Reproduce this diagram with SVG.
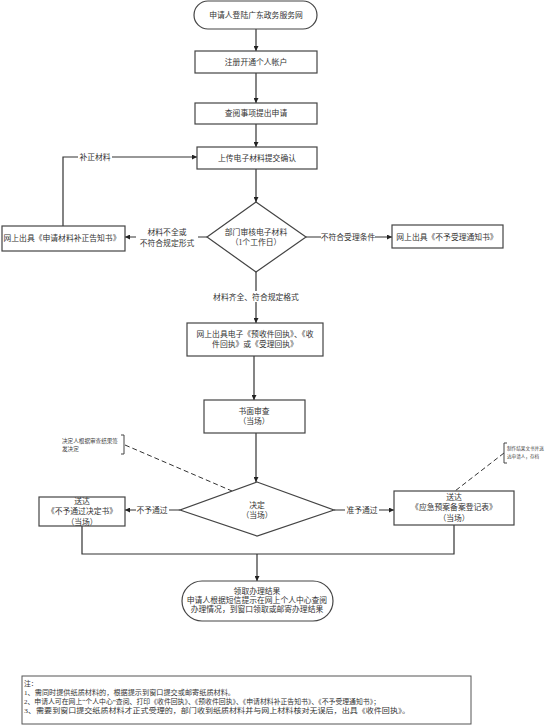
<svg xmlns="http://www.w3.org/2000/svg" width="554" height="726" viewBox="0 0 554 726">
<defs>
<marker id="arr" viewBox="0 0 10 10" refX="10" refY="5" markerWidth="5" markerHeight="5" orient="auto" markerUnits="userSpaceOnUse">
<path d="M0,0 L10,5 L0,10 z" fill="#222"/>
</marker>
<style>
.n{fill:#fff;stroke:#444;stroke-width:1.2}
.t{font-family:"Liberation Serif","Noto Sans CJK SC",serif;font-size:7.8px;fill:#333;text-anchor:middle}
.s{font-family:"Liberation Serif","Noto Sans CJK SC",serif;font-size:5.6px;fill:#444}
.c{fill:none;stroke:#333;stroke-width:1.2}
.a{marker-end:url(#arr)}
.d{fill:none;stroke:#333;stroke-width:1;stroke-dasharray:5,3}
.bg{fill:#fff}
.nt{font-family:"Liberation Serif","Noto Sans CJK SC",serif;font-size:6.8px;fill:#333}
</style>
</defs>
<rect width="554" height="726" fill="#fff"/>
<g id="connectors">
<line class="c a" x1="256" y1="29" x2="256" y2="51"/>
<line class="c a" x1="256" y1="73" x2="256" y2="103"/>
<line class="c a" x1="256" y1="124" x2="256" y2="147"/>
<line class="c a" x1="256" y1="169" x2="256" y2="202"/>
<line class="c a" x1="306" y1="237" x2="392" y2="237"/>
<rect class="bg" x="321" y="231" width="54" height="11"/>
<text class="t" x="348" y="240">不符合受理条件</text>
<line class="c a" x1="207" y1="237" x2="125" y2="237"/>
<rect class="bg" x="136" y="226" width="62" height="22"/>
<text class="t" x="167" y="235">材料不全或</text>
<text class="t" x="167" y="246">不符合规定形式</text>
<polyline class="c a" points="63,226 63,157 197,157"/>
<rect class="bg" x="78" y="152" width="34" height="10"/>
<text class="t" x="95" y="160">补正材料</text>
<line class="c a" x1="256" y1="272" x2="256" y2="323"/>
<rect class="bg" x="210" y="291" width="92" height="11"/>
<text class="t" x="256" y="300">材料齐全、符合规定格式</text>
<line class="c a" x1="254" y1="356" x2="254" y2="400"/>
<line class="c a" x1="256" y1="433" x2="256" y2="482"/>
<line class="c a" x1="180" y1="510" x2="125" y2="510"/>
<rect class="bg" x="136" y="504" width="33" height="11"/>
<text class="t" x="152" y="513">不予通过</text>
<line class="c a" x1="334" y1="510" x2="394" y2="510"/>
<rect class="bg" x="345" y="504" width="34" height="11"/>
<text class="t" x="362" y="513">准予通过</text>
<polyline class="c" points="82,526 82,554 454,554 454,525"/>
<line class="c a" x1="257" y1="554" x2="257" y2="581"/>
<line class="d" x1="125" y1="445" x2="232" y2="491"/>
<line class="d" x1="504" y1="453" x2="455" y2="491"/>
</g>
<g id="start">
<rect class="n" x="194" y="1" width="123" height="28" rx="14"/>
<text class="t" x="256" y="18">申请人登陆广东政务服务网</text>
</g>
<g id="register">
<rect class="n" x="195" y="51" width="122" height="22"/>
<text class="t" x="256" y="65">注册开通个人帐户</text>
</g>
<g id="query">
<rect class="n" x="195" y="103" width="122" height="21"/>
<text class="t" x="256" y="116">查阅事项提出申请</text>
</g>
<g id="upload">
<rect class="n" x="197" y="147" width="120" height="22"/>
<text class="t" x="257" y="161">上传电子材料提交确认</text>
</g>
<g id="review">
<polygon class="n" points="256,202 306,237 256,272 207,237"/>
<text class="t" x="256" y="235">部门审核电子材料</text>
<text class="t" x="256" y="245">（1个工作日）</text>
</g>
<g id="reject-notice">
<rect class="n" x="392" y="225" width="111" height="23"/>
<text class="t" x="447" y="240">网上出具《不予受理通知书》</text>
</g>
<g id="supplement-notice">
<rect class="n" x="2" y="226" width="123" height="25"/>
<text class="t" x="62" y="241">网上出具《申请材料补正告知书》</text>
</g>
<g id="receipt">
<rect class="n" x="187" y="323" width="136" height="33"/>
<text class="t" x="255" y="337">网上出具电子《预收件回执》、《收</text>
<text class="t" x="255" y="347">件回执》或《受理回执》</text>
</g>
<g id="written-review">
<rect class="n" x="204" y="400" width="101" height="33"/>
<text class="t" x="254" y="414">书面审查</text>
<text class="t" x="254" y="424">（当场）</text>
</g>
<g id="decision">
<polygon class="n" points="257,482 334,510 257,536 180,510"/>
<text class="t" x="257" y="508">决定</text>
<text class="t" x="257" y="518">（当场）</text>
</g>
<g id="reject-decision">
<rect class="n" x="39" y="497" width="86" height="29"/>
<text class="t" x="82" y="504">送达</text>
<text class="t" x="82" y="514">《不予通过决定书》</text>
<text class="t" x="82" y="525">（当场）</text>
</g>
<g id="approve">
<rect class="n" x="394" y="491" width="120" height="34"/>
<text class="t" x="454" y="500">送达</text>
<text class="t" x="454" y="510">《应急预案备案登记表》</text>
<text class="t" x="454" y="521">（当场）</text>
</g>
<g id="note-left">
<path d="M121,435 L124,435 L124,454 L121,454" fill="none" stroke="#444" stroke-width="1"/>
<text class="s" x="62" y="443">决定人根据审查结果签</text>
<text class="s" x="62" y="451">发决定</text>
</g>
<g id="note-right">
<path d="M507,443 L504,443 L504,463 L507,463" fill="none" stroke="#444" stroke-width="1"/>
<text class="s" x="507" y="450" style="font-size:4.6px">制作结果文书并送</text>
<text class="s" x="507" y="458" style="font-size:4.6px">达申请人，存档</text>
</g>
<g id="result">
<rect class="n" x="182" y="581" width="151" height="40" rx="20"/>
<text class="t" x="257" y="594">领取办理结果</text>
<text class="t" x="257" y="603">申请人根据短信提示在网上个人中心查阅</text>
<text class="t" x="257" y="612">办理情况，到窗口领取或邮寄办理结果</text>
</g>
<g id="notes">
<rect x="22" y="676" width="449" height="48" fill="#fff" stroke="#555" stroke-width="1"/>
<text class="nt" x="24" y="686">注：</text>
<text class="nt" x="24" y="695" textLength="211" lengthAdjust="spacingAndGlyphs">1、需同时提供纸质材料的，根据提示到窗口提交或邮寄纸质材料。</text>
<text class="nt" x="24" y="704" textLength="356" lengthAdjust="spacingAndGlyphs">2、申请人可在网上“个人中心”查阅、打印《收件回执》、《预收件回执》、《申请材料补正告知书》、《不予受理通知书》；</text>
<text class="nt" x="24" y="713" textLength="386" lengthAdjust="spacingAndGlyphs">3、需要到窗口提交纸质材料才正式受理的，部门收到纸质材料并与网上材料核对无误后，出具《收件回执》。</text>
</g>
</svg>
